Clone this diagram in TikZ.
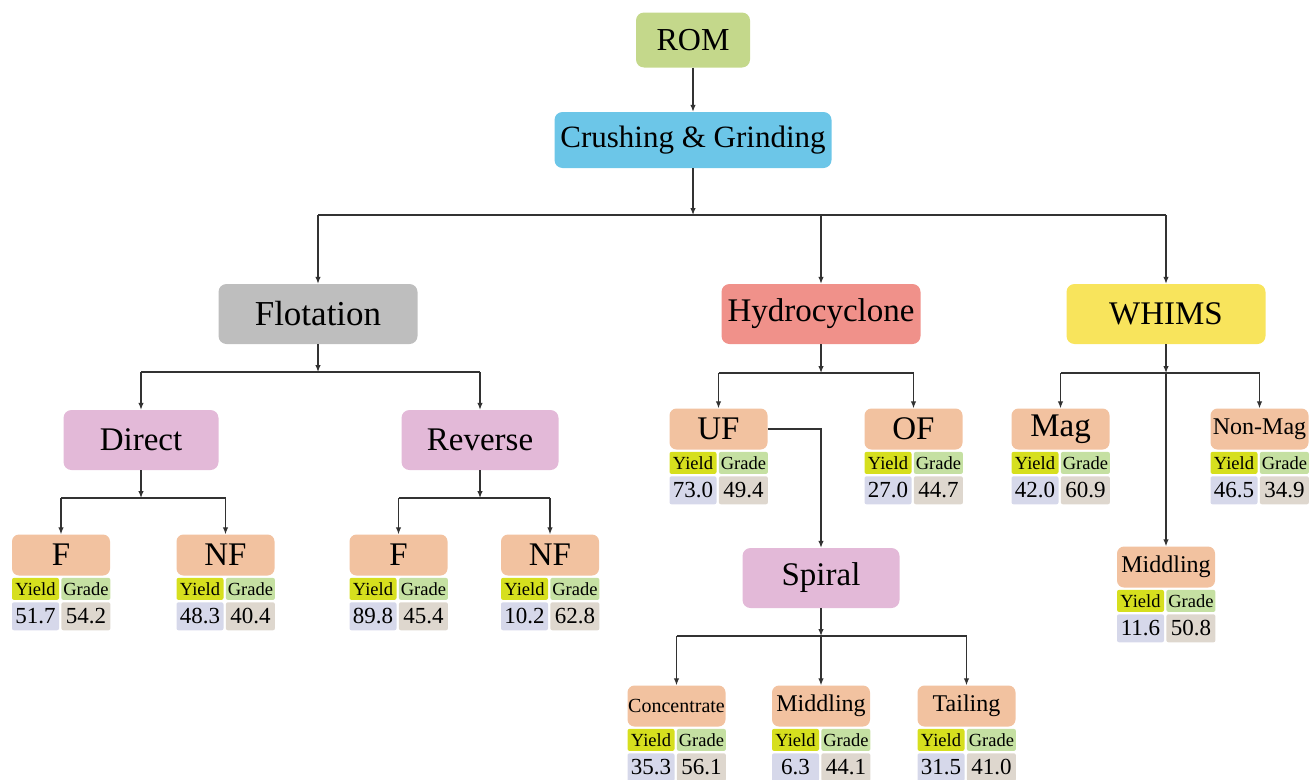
\documentclass[tikz,border=0pt]{standalone}
\usepackage{fontspec}
\setmainfont{Liberation Serif}
\usetikzlibrary{arrows.meta,positioning}

\definecolor{romc}{RGB}{196,216,139}
\definecolor{crushc}{RGB}{108,198,232}
\definecolor{flotc}{RGB}{190,190,190}
\definecolor{hydroc}{RGB}{240,145,138}
\definecolor{whimsc}{RGB}{248,228,92}
\definecolor{pinkc}{RGB}{227,185,216}
\definecolor{salmonc}{RGB}{242,194,160}
\definecolor{yieldc}{RGB}{214,223,30}
\definecolor{gradec}{RGB}{197,224,162}
\definecolor{yvalc}{RGB}{214,216,234}
\definecolor{gvalc}{RGB}{222,215,206}
\definecolor{linec}{RGB}{50,50,50}

\begin{document}
\begin{tikzpicture}[x=1pt, y=-1pt,
    stage/.style={rounded corners=8pt, minimum width=199pt, minimum height=60pt,
      inner sep=0pt, font=\fontsize{33}{36}\selectfont},
    prod/.style={rounded corners=7pt, fill=salmonc, minimum width=98pt,
      minimum height=41pt, inner sep=0pt, font=\fontsize{33}{35}\selectfont},
    ycell/.style={fill=yieldc, rounded corners=2pt, minimum width=47pt,
      minimum height=22pt, inner sep=0pt, font=\fontsize{18.5}{20}\selectfont},
    gcell/.style={ycell, fill=gradec, minimum width=49pt},
    yval/.style={ycell, fill=yvalc, minimum height=28pt, font=\fontsize{23}{25}\selectfont},
    gval/.style={yval, fill=gvalc, minimum width=49pt},
    link/.style={line width=1.2pt, draw=linec},
    arr/.style={link, -{Latex[length=7pt,width=5.5pt]}}]
  \useasboundingbox (0,0) rectangle (1309,779);

  % top
  \node[stage, fill=romc, minimum width=114pt, minimum height=55pt,
    font=\fontsize{32}{34}\selectfont] (rom) at (693,40) {ROM};
  \node[stage, fill=crushc, minimum width=277pt, minimum height=56pt,
    font=\fontsize{31}{34}\selectfont] (crush) at (693,140) {Crushing \& Grinding};

  % methods
  \node[stage, fill=flotc, font=\fontsize{35}{38}\selectfont] (flot) at (318,314) {Flotation};
  \node[stage, fill=hydroc] (hydro) at (821,314) {Hydrocyclone};
  \node[stage, fill=whimsc] (whims) at (1166,314) {WHIMS};

  \node[stage, fill=pinkc, minimum width=155pt] (direct) at (141,440) {Direct};
  \node[stage, fill=pinkc, minimum width=157pt] (reverse) at (480,440) {Reverse};
  \node[stage, fill=pinkc, minimum width=157pt] (spiral) at (821,578) {Spiral};

  % products
  \node[prod] (df) at (61,555) {F};
  \node[prod] (dnf) at (225.5,555) {NF};
  \node[prod] (rf) at (398.5,555) {F};
  \node[prod] (rnf) at (550,555) {NF};
  \node[prod] (uf) at (718.5,429) {UF};
  \node[prod] (of) at (913.5,429) {OF};
  \node[prod] (mag) at (1060.5,429) {Mag};
  \node[prod, font=\fontsize{24}{26}\selectfont] (nonmag) at (1259.5,429) {Non-Mag};
  \node[prod, font=\fontsize{24}{26}\selectfont] (wmid) at (1166,567) {Middling};
  \node[prod, font=\fontsize{20}{22}\selectfont] (conc) at (676.5,706) {Concentrate};
  \node[prod, font=\fontsize{24}{26}\selectfont] (smid) at (821,706) {Middling};
  \node[prod, font=\fontsize{24}{26}\selectfont] (tail) at (966.5,706) {Tailing};

  % yield / grade tables
  \foreach \b/\yv/\gv in {df/51.7/54.2, dnf/48.3/40.4, rf/89.8/45.4, rnf/10.2/62.8,
      uf/73.0/49.4, of/27.0/44.7, mag/42.0/60.9, nonmag/46.5/34.9, wmid/11.6/50.8,
      conc/35.3/56.1, smid/6.3/44.1, tail/31.5/41.0} {
    \node[ycell, below right=2pt and 0pt of \b.south west] (\b-y) {Yield};
    \node[gcell, right=2pt of \b-y] (\b-g) {Grade};
    \node[yval, below=2pt of \b-y] (\b-yv) {\yv};
    \node[gval, below=2pt of \b-g] (\b-gv) {\gv};
  }

  % junctions
  \coordinate (j0) at (693,215);
  \coordinate (j0l) at (318,215);
  \coordinate (j0m) at (821,215);
  \coordinate (j0r) at (1166,215);
  \coordinate (j1) at (318,372);
  \coordinate (j1l) at (141,372);
  \coordinate (j1r) at (480,372);
  \coordinate (j2) at (141,498);
  \coordinate (j2l) at (61,498);
  \coordinate (j2r) at (225.5,498);
  \coordinate (j3) at (480,498);
  \coordinate (j3l) at (398.5,498);
  \coordinate (j3r) at (550,498);
  \coordinate (j4) at (821,373);
  \coordinate (j4l) at (718.5,373);
  \coordinate (j4r) at (913.5,373);
  \coordinate (j5) at (1166,373);
  \coordinate (j5l) at (1060.5,373);
  \coordinate (j5r) at (1259.5,373);
  \coordinate (j6) at (821,636);
  \coordinate (j6l) at (676.5,636);
  \coordinate (j6r) at (966.5,636);

  \draw[arr] (rom) -- (crush);
  \draw[arr] (crush) -- (j0);
  \draw[link] (j0l) -- (j0r);
  \draw[arr] (j0l) -- (flot);
  \draw[arr] (j0m) -- (hydro);
  \draw[arr] (j0r) -- (whims);

  \draw[arr] (flot) -- (j1);
  \draw[link] (j1l) -- (j1r);
  \draw[arr] (j1l) -- (direct);
  \draw[arr] (j1r) -- (reverse);

  \draw[arr] (direct) -- (j2);
  \draw[link] (j2l) -- (j2r);
  \draw[arr] (j2l) -- (df);
  \draw[arr] (j2r) -- (dnf);

  \draw[arr] (reverse) -- (j3);
  \draw[link] (j3l) -- (j3r);
  \draw[arr] (j3l) -- (rf);
  \draw[arr] (j3r) -- (rnf);

  \draw[arr] (hydro) -- (j4);
  \draw[link] (j4l) -- (j4r);
  \draw[arr] (j4l) -- (uf);
  \draw[arr] (j4r) -- (of);
  \draw[arr] (uf.east) -| (spiral.north);

  \draw[arr] (spiral) -- (j6);
  \draw[link] (j6l) -- (j6r);
  \draw[arr] (j6l) -- (conc);
  \draw[arr] (j6) -- (smid);
  \draw[arr] (j6r) -- (tail);

  \draw[arr] (whims) -- (j5);
  \draw[link] (j5l) -- (j5r);
  \draw[arr] (j5l) -- (mag);
  \draw[arr] (j5r) -- (nonmag);
  \draw[arr] (j5) -- (wmid);
\end{tikzpicture}
\end{document}
